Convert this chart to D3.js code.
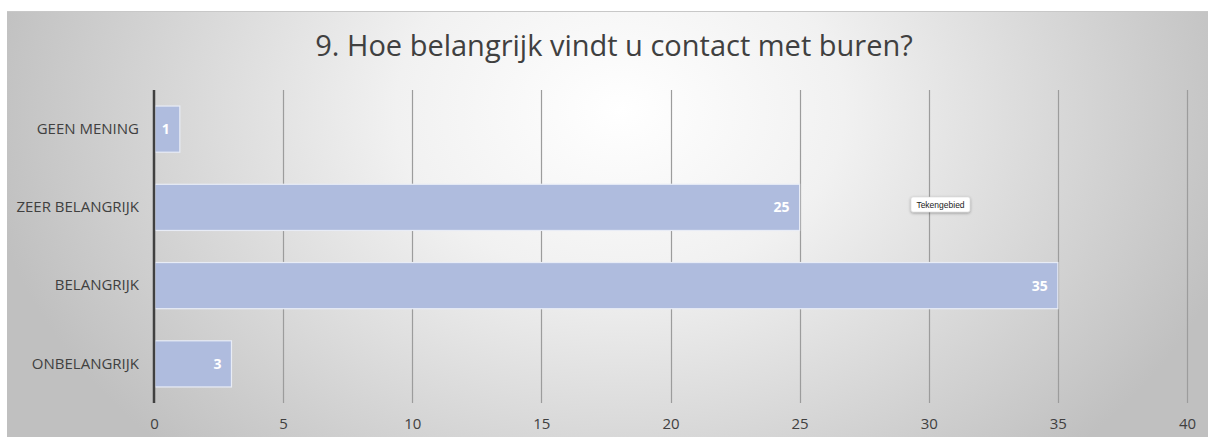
<!DOCTYPE html>
<html>
<head>
<meta charset="utf-8">
<script src="https://cdn.jsdelivr.net/npm/d3@7"></script>
<style>
  body { margin: 0; background: #fff; }
  svg { display: block; font-family: "Open Sans", sans-serif; }
</style>
</head>
<body>
<div class="chart"></div>
<script>
const title = "9. Hoe belangrijk vindt u contact met buren?";
const categories = ["GEEN MENING", "ZEER BELANGRIJK", "BELANGRIJK", "ONBELANGRIJK"];
const values = [1, 25, 35, 3];
const xTicks = [0, 5, 10, 15, 20, 25, 30, 35, 40];

let svg = d3.select(".chart").append("svg").attr("width", 1208).attr("height", 439),
    margin = {top: 90, right: 21, bottom: 36, left: 154},
    width = 1208 - margin.left - margin.right,
    height = 439 - margin.top - margin.bottom;

// background panel with soft radial gradient
let defs = svg.append("defs");
let grad = defs.append("radialGradient")
    .attr("id", "bg")
    .attr("gradientUnits", "userSpaceOnUse")
    .attr("cx", 620).attr("cy", 110).attr("r", 640)
    .attr("gradientTransform", "translate(620,110) scale(1,0.75) translate(-620,-110)");
grad.append("stop").attr("offset", "0%").attr("stop-color", "#ffffff");
grad.append("stop").attr("offset", "35%").attr("stop-color", "#f1f1f1");
grad.append("stop").attr("offset", "100%").attr("stop-color", "#c0c0c0");

let shadow = defs.append("filter").attr("id", "tipShadow")
    .attr("x", "-30%").attr("y", "-50%").attr("width", "160%").attr("height", "220%");
shadow.append("feDropShadow").attr("dx", 0).attr("dy", 1).attr("stdDeviation", 1.5)
    .attr("flood-color", "#000").attr("flood-opacity", 0.35);

svg.append("rect")
    .attr("x", 7).attr("y", 11)
    .attr("width", 1201).attr("height", 426)
    .attr("fill", "url(#bg)");
svg.append("line")
    .attr("x1", 7).attr("x2", 1208).attr("y1", 11.5).attr("y2", 11.5)
    .attr("stroke", "#c8c8c8").attr("stroke-width", 1);

svg.append("text")
    .attr("x", 614).attr("y", 56)
    .attr("text-anchor", "middle")
    .attr("fill", "#404040")
    .attr("font-size", 29)
    .text(title);

let g = svg.append("g").attr("transform", `translate(${margin.left},${margin.top})`);

let x = d3.scaleLinear().domain([0, 40]).range([0, width]);
let y = d3.scaleBand().domain(categories).range([0, height]).paddingInner(0.41).paddingOuter(0.205);

// vertical gridlines
g.selectAll(".grid")
    .data(xTicks.filter(d => d > 0))
    .enter().append("line")
    .attr("class", "grid")
    .attr("x1", d => Math.round(x(d)) + 0.5).attr("x2", d => Math.round(x(d)) + 0.5)
    .attr("y1", 0).attr("y2", height)
    .attr("stroke", "#9c9c9c").attr("stroke-width", 1.2);

// bars
g.selectAll(".bar")
    .data(values)
    .enter().append("rect")
    .attr("class", "bar")
    .attr("x", x(0) + 1)
    .attr("y", (d, i) => y(categories[i]))
    .attr("width", d => x(d) - x(0) - 1)
    .attr("height", y.bandwidth())
    .attr("fill", "#afbcde")
    .attr("stroke", "#e8ecf6").attr("stroke-width", 1.2);

g.selectAll(".val")
    .data(values)
    .enter().append("text")
    .attr("class", "val")
    .attr("x", d => x(d) - 10)
    .attr("y", (d, i) => y(categories[i]) + y.bandwidth() / 2)
    .attr("dy", "0.36em")
    .attr("text-anchor", "end")
    .attr("fill", "#ffffff")
    .attr("font-size", 14)
    .attr("font-weight", "bold")
    .text(d => d);

// y axis labels + axis line
let yAxis = g.append("g").call(d3.axisLeft(y).tickSize(0).tickPadding(15));
yAxis.select(".domain").remove();
yAxis.selectAll("text").attr("fill", "#404040").attr("font-size", 15).attr("font-family", "Open Sans, sans-serif");

g.append("line")
    .attr("x1", 0).attr("x2", 0).attr("y1", 0).attr("y2", height)
    .attr("stroke", "#404040").attr("stroke-width", 2.5);

// x axis labels
let xAxis = g.append("g")
    .attr("transform", `translate(0,${height})`)
    .call(d3.axisBottom(x).tickValues(xTicks).tickSize(0).tickPadding(15));
xAxis.select(".domain").remove();
xAxis.selectAll("text").attr("fill", "#404040").attr("font-size", 15).attr("font-family", "Open Sans, sans-serif");

// "Tekengebied" hover tag seen in the screenshot
let tip = svg.append("g").attr("transform", "translate(911,197)");
tip.append("rect")
    .attr("width", 59).attr("height", 15).attr("rx", 2)
    .attr("fill", "#ffffff").attr("stroke", "#cfcfcf").attr("stroke-width", 0.5)
    .attr("filter", "url(#tipShadow)");
tip.append("text")
    .attr("x", 29.5).attr("y", 10.5)
    .attr("text-anchor", "middle")
    .attr("font-family", "Liberation Sans, Arial, sans-serif")
    .attr("font-size", 8.5)
    .attr("fill", "#222")
    .text("Tekengebied");
</script>
</body>
</html>
